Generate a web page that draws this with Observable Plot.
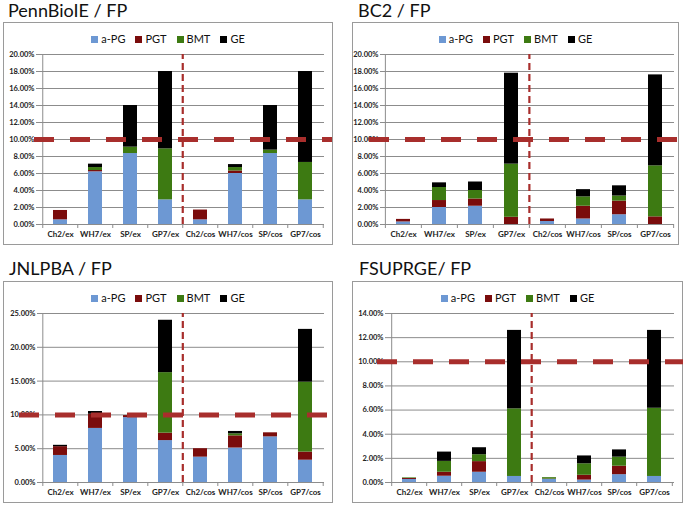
<!DOCTYPE html>
<html><head><meta charset="utf-8">
<script src="https://cdn.jsdelivr.net/npm/d3@7"></script>
<script src="https://cdn.jsdelivr.net/npm/@observablehq/plot@0.6"></script>
<style>
body{margin:0;background:#fff;font-family:Lato,"Open Sans",sans-serif;}
#root{position:relative;width:685px;height:505px;overflow:hidden;background:#fff}
.title{position:absolute;font-size:18px;color:#111;white-space:nowrap;line-height:1}
.box{position:absolute;border:1px solid #9a9a9a;box-sizing:border-box;background:#fff}
.box svg{position:absolute;left:0;top:0;overflow:visible}
.legend{position:absolute;left:0;right:0;text-align:center;font-size:11px;color:#111;white-space:nowrap;line-height:1;z-index:2}
.legend span.sw{display:inline-block;width:7px;height:7px;margin-right:3px;vertical-align:0px}
.legend span.it{margin:0 5px}
</style></head>
<body><div id="root"></div>
<script>
// ---- data ----
const categories = ["Ch2/ex","WH7/ex","SP/ex","GP7/ex","Ch2/cos","WH7/cos","SP/cos","GP7/cos"];
const seriesNames = ["a-PG","PGT","BMT","GE"];
const seriesColors = ["#6d98d3","#7a0c0c","#3d7a12","#000000"];

const pennAPG = [0.55, 6.2, 8.35, 2.9, 0.55, 6.0, 8.35, 2.9];
const pennPGT = [1.1, 0.15, 0, 0, 1.15, 0.3, 0, 0];
const pennBMT = [0, 0.35, 0.75, 6.0, 0, 0.4, 0.4, 4.4];
const pennGE  = [0, 0.4, 4.9, 9.1, 0, 0.35, 5.25, 10.7];
const pennTicks = [0,2,4,6,8,10,12,14,16,18,20];

const bc2APG = [0.3, 2.0, 2.15, 0, 0.35, 0.65, 1.15, 0];
const bc2PGT = [0.3, 0.82, 0.85, 0.85, 0.3, 1.5, 1.6, 0.9];
const bc2BMT = [0, 1.53, 1.0, 6.25, 0, 1.1, 0.6, 6.0];
const bc2GE  = [0, 0.55, 1.0, 10.7, 0, 0.85, 1.2, 10.7];
const bc2Ticks = [0,2,4,6,8,10,12,14,16,18,20];

const jnlAPG = [4.0, 8.0, 9.6, 6.2, 3.75, 5.1, 6.75, 3.3];
const jnlPGT = [1.3, 2.1, 0.3, 1.1, 1.25, 1.8, 0.6, 1.2];
const jnlBMT = [0, 0, 0, 8.95, 0, 0.3, 0, 10.35];
const jnlGE  = [0.2, 0.4, 0, 7.75, 0, 0.35, 0, 7.8];
const jnlTicks = [0,5,10,15,20,25];

const fsuAPG = [0.25, 0.52, 0.85, 0.5, 0.25, 0.2, 0.65, 0.5];
const fsuPGT = [0.08, 0.33, 0.88, 0, 0.03, 0.4, 0.7, 0];
const fsuBMT = [0.05, 0.9, 0.57, 5.6, 0.12, 0.95, 0.75, 5.65];
const fsuGE  = [0, 0.77, 0.58, 6.5, 0, 0.65, 0.6, 6.45];
const fsuTicks = [0,2,4,6,8,10,12,14];

const threshold = 10;

// ---- layout ----
const panels = [
  {title:"PennBioIE / FP", values:[pennAPG,pennPGT,pennBMT,pennGE], ticks:pennTicks,
   tl:8, tt:1, bl:3, bt:22, bw:330, bh:223, ml:36, mr:8, mt:31, mb:20, legTop:10, extL:6, extR:8},
  {title:"BC2 / FP", values:[bc2APG,bc2PGT,bc2BMT,bc2GE], ticks:bc2Ticks,
   tl:358, tt:1, bl:352, bt:22, bw:327, bh:223, ml:31, mr:4, mt:31, mb:20, legTop:10, extL:15, extR:4},
  {title:"JNLPBA / FP", values:[jnlAPG,jnlPGT,jnlBMT,jnlGE], ticks:jnlTicks,
   tl:9, tt:259, bl:3, bt:281, bw:330, bh:222, ml:37, mr:8, mt:31, mb:20, legTop:10, extL:22, extR:8},
  {title:"FSUPRGE/ FP", values:[fsuAPG,fsuPGT,fsuBMT,fsuGE], ticks:fsuTicks,
   tl:359, tt:259, bl:352, bt:281, bw:331, bh:222, ml:36, mr:8, mt:31, mb:20, legTop:10, extL:12, extR:9}
];

const root = document.getElementById("root");
const grid = "#8c8c8c";
const red = "#a82e2c";

for (const p of panels) {
  const t = document.createElement("div");
  t.className = "title"; t.textContent = p.title;
  t.style.left = p.tl + "px"; t.style.top = p.tt + "px";
  root.appendChild(t);

  const box = document.createElement("div");
  box.className = "box";
  Object.assign(box.style, {left:p.bl+"px", top:p.bt+"px", width:p.bw+"px", height:p.bh+"px"});
  root.appendChild(box);

  const leg = document.createElement("div");
  leg.className = "legend"; leg.style.top = p.legTop + "px";
  leg.innerHTML = seriesNames.map((s,i)=>`<span class="it"><span class="sw" style="background:${seriesColors[i]}"></span>${s}</span>`).join("");
  box.appendChild(leg);

  const data = [];
  categories.forEach((c,i)=> seriesNames.forEach((s,j)=> data.push({cat:c, series:s, value:p.values[j][i]})));
  const w = p.bw - 2, h = p.bh - 2;
  const step = (w - p.ml - p.mr) / categories.length;
  const yMax = p.ticks[p.ticks.length-1];

  const chart = Plot.plot({
    width: w, height: h,
    marginLeft: p.ml, marginRight: p.mr, marginTop: p.mt, marginBottom: p.mb,
    style: {fontFamily: "Lato, 'Open Sans', sans-serif", background: "transparent", color:"#222"},
    x: {domain: categories, paddingInner: 0.6, paddingOuter: 0.3},
    y: {domain: [0, yMax]},
    color: {domain: seriesNames, range: seriesColors},
    marks: [
      Plot.gridY(p.ticks, {stroke: grid, strokeOpacity: 1}),
      Plot.barY(data, {x: "cat", y: "value", fill: "series", order: seriesNames}),
      Plot.ruleX([categories[0]], {dx: -step/2, y1: 0, y2: yMax, stroke: grid}),
      Plot.ruleY([0], {stroke: grid}),
      Plot.ruleX(categories, {dx: -step/2, y1: 0, y2: 0, insetBottom: -4, stroke: grid}),
      Plot.ruleX([categories[categories.length-1]], {dx: step/2, y1: 0, y2: 0, insetBottom: -4, stroke: grid}),
      Plot.axisY({ticks: p.ticks, tickSize: 4, tickPadding: 2, tickFormat: d => d.toFixed(2) + "%",
                  fontSize: 7.5, fontWeight: "bold", stroke: grid, fill: "#222", label: null}),
      Plot.axisX({tickSize: 0, tickPadding: 7, fontSize: 8, fontWeight: "bold", fill: "#222", label: null}),
      Plot.ruleX([categories[4]], {dx: -step/2, y1: 0, y2: yMax, stroke: red, strokeWidth: 2.2, strokeDasharray: "7,4"}),
      Plot.ruleY([threshold], {stroke: red, strokeWidth: 5, strokeDasharray: "20,16", insetLeft: -p.extL, insetRight: -p.extR})
    ]
  });
  box.appendChild(chart);
}
</script></body></html>
